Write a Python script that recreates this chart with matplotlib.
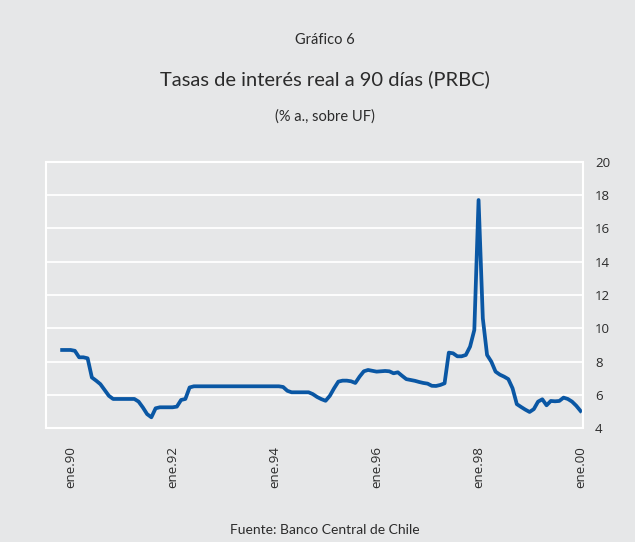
import numpy as np
import matplotlib
matplotlib.use("Agg")
from matplotlib import pyplot as plt

# monthly real rate, PRBC 90 days (% a., over UF), Nov-89 .. Jan-00
months = np.arange(-2, 121)
tasa = [
    8.70, 8.70, 8.70, 8.65, 8.26, 8.26, 8.20, 7.05, 6.86, 6.65,
    6.30, 5.95, 5.76, 5.76, 5.76, 5.76, 5.76, 5.76, 5.60, 5.25,
    4.85, 4.66, 5.20, 5.26, 5.26, 5.26, 5.26, 5.30, 5.70, 5.76,
    6.45, 6.52, 6.52, 6.52, 6.52, 6.52, 6.52, 6.52, 6.52, 6.52,
    6.52, 6.52, 6.52, 6.52, 6.52, 6.52, 6.52, 6.52, 6.52, 6.52,
    6.52, 6.52, 6.48, 6.25, 6.16, 6.16, 6.16, 6.16, 6.16, 6.05,
    5.88, 5.75, 5.65, 5.95, 6.40, 6.80, 6.86, 6.86, 6.82, 6.72,
    7.10, 7.42, 7.50, 7.45, 7.40, 7.42, 7.44, 7.42, 7.30, 7.36,
    7.15, 6.95, 6.90, 6.85, 6.78, 6.72, 6.68, 6.55, 6.54, 6.60,
    6.70, 8.54, 8.50, 8.32, 8.32, 8.40, 8.90, 9.90, 17.70, 10.60,
    8.40, 8.00, 7.40, 7.22, 7.10, 6.95, 6.40, 5.45, 5.28, 5.12,
    4.98, 5.15, 5.60, 5.74, 5.38, 5.64, 5.62, 5.64, 5.84, 5.76,
    5.60, 5.35, 5.04,
]
tick_pos = [0, 24, 48, 72, 96, 120]
tick_lab = ["ene.90", "ene.92", "ene.94", "ene.96", "ene.98", "ene.00"]

bg = "#e6e7e8"
txt = "#2b2b2b"
plt.rcParams['font.family'] = ['Lato', 'DejaVu Sans']

fig = plt.figure(figsize=(6.35, 5.42), dpi=100)
fig.patch.set_facecolor(bg)
ax = fig.add_axes([0.0724, 0.2098, 0.8452, 0.4919])
ax.set_facecolor(bg)

ax.plot(months, tasa, color="#0a57a4", lw=2.7, solid_joinstyle="round")

ax.set_ylim(4, 20)
ax.set_yticks(range(4, 21, 2))
ax.set_xlim(-5.8, 120.5)
ax.set_xticks(tick_pos)
ax.set_xticklabels(tick_lab, rotation=90, va="top", ha="center",
                   family=['Open Sans', 'DejaVu Sans'])
ax.yaxis.tick_right()
for lab in ax.get_yticklabels():
    lab.set_family(['Open Sans', 'DejaVu Sans'])
ax.tick_params(axis="both", length=0, labelsize=9.5, colors=txt)
ax.tick_params(axis="y", pad=9)
ax.tick_params(axis="x", pad=13)

ax.grid(True, axis="y", color="white", lw=1.3)
for s in ax.spines.values():
    s.set_color("white")
    s.set_linewidth(1.5)

cx = 0.512
fig.text(cx, 1 - 40 / 542, "Gráfico 6", ha="center", va="center",
         fontsize=10.5, color=txt)
fig.text(cx, 1 - 79 / 542, "Tasas de interés real a 90 días (PRBC)",
         ha="center", va="center", fontsize=14.5, color=txt)
fig.text(cx, 1 - 117 / 542, "(% a., sobre UF)", ha="center", va="center",
         fontsize=10.5, color=txt)
fig.text(cx, 1 - 530 / 542, "Fuente: Banco Central de Chile", ha="center",
         va="center", fontsize=10, color=txt)

fig.savefig("out.png", dpi=100, facecolor=bg)
